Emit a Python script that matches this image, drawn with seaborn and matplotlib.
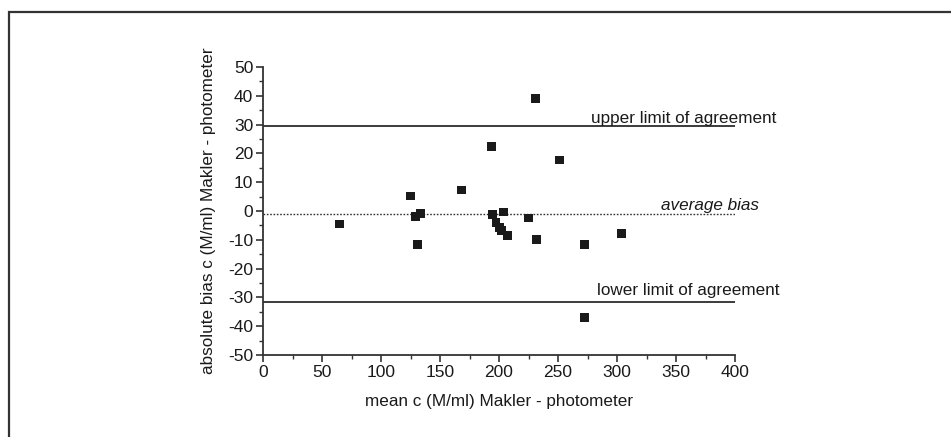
import numpy as np
import pandas as pd
import matplotlib
matplotlib.use("Agg")
import matplotlib.pyplot as plt
from matplotlib.ticker import AutoMinorLocator
from matplotlib.patches import Rectangle
import seaborn as sns

# ---- data ----
mean_c = [65, 125, 129, 131, 133.5, 168.5, 193.5, 194.3, 197.4, 200.5,
          202, 203.6, 207, 225.3, 230.9, 232, 251, 272.2, 272.7, 304]
bias_c = [-4.5, 5.2, -2.0, -11.5, -0.8, 7.3, 22.4, -1.2, -3.9, -5.8,
          -6.8, -0.35, -8.4, -2.4, 39.0, -10.0, 17.7, -11.7, -36.9, -7.9]
avg_bias = -1.15
upper_loa = 29.35
lower_loa = -31.5
x_ticks = [0, 50, 100, 150, 200, 250, 300, 350, 400]
y_ticks = [-50, -40, -30, -20, -10, 0, 10, 20, 30, 40, 50]

df = pd.DataFrame({"mean": mean_c, "bias": bias_c})

sns.set_theme(style="ticks")
plt.rcParams["font.family"] = ["Liberation Sans", "DejaVu Sans"]

fig = plt.figure(figsize=(9.51, 4.37), dpi=100)
ax = fig.add_axes([263 / 951, 1 - 355 / 437, (735 - 263) / 951, (355 - 67) / 437])

sns.scatterplot(data=df, x="mean", y="bias", marker="s", s=40, color="#1a1a1a",
                edgecolor="none", ax=ax, zorder=3)

ax.plot([0, 400], [upper_loa, upper_loa], color="#1a1a1a", lw=1.2)
ax.plot([0, 400], [lower_loa, lower_loa], color="#1a1a1a", lw=1.2)
ax.plot([0, 400], [avg_bias, avg_bias], color="#333333", lw=1.0, ls=(0, (1.2, 1.2)))

ax.text(278, 30.6, "upper limit of agreement", fontsize=12.3, va="baseline", ha="left",
        color="#1a1a1a")
ax.text(337, 0.45, "average bias", fontsize=12.3, style="italic", va="baseline",
        ha="left", color="#1a1a1a")
ax.text(283, -29.1, "lower limit of agreement", fontsize=12.3, va="baseline", ha="left",
        color="#1a1a1a")

ax.set_xlim(0, 400)
ax.set_ylim(-50, 50)
ax.set_xticks(x_ticks)
ax.set_yticks(y_ticks)
ax.set_xticklabels([str(t) for t in x_ticks])
ax.set_yticklabels([str(t) for t in y_ticks])
ax.xaxis.set_minor_locator(AutoMinorLocator(2))
ax.yaxis.set_minor_locator(AutoMinorLocator(2))

for s in ["top", "right"]:
    ax.spines[s].set_visible(False)
for s in ["left", "bottom"]:
    ax.spines[s].set_color("#333333")
    ax.spines[s].set_linewidth(1.3)
ax.tick_params(axis="both", which="major", direction="out", length=5, width=1.2,
               color="#333333", labelsize=12.5, labelcolor="#1a1a1a", pad=2)
ax.tick_params(axis="both", which="minor", direction="out", length=3, width=1.0,
               color="#333333")

ax.set_xlabel("mean c (M/ml) Makler - photometer", fontsize=12.3, color="#1a1a1a",
              labelpad=10)
ax.set_ylabel("absolute bias c (M/ml) Makler - photometer", fontsize=12.3,
              color="#1a1a1a", labelpad=9)

# outer frame (left and top edges visible)
fig.patches.append(Rectangle((9 / 951, -0.1), 1.2, 1 - 12 / 437 + 0.1,
                             transform=fig.transFigure, fill=False,
                             edgecolor="#333333", linewidth=1.6))

fig.savefig("out.png", dpi=100)
